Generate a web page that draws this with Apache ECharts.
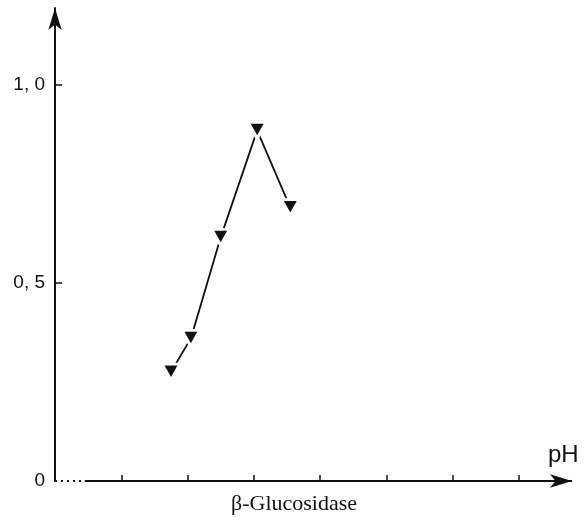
<!DOCTYPE html>
<html>
<head>
<meta charset="utf-8">
<script src="https://cdn.jsdelivr.net/npm/echarts@6/dist/echarts.min.js"></script>
<style>
  html, body { margin: 0; padding: 0; background: #fff; }
  #chart { width: 585px; height: 523px; }
</style>
</head>
<body>
<div id="chart"></div>
<script>
// pH values of the measurements and the relative activity at each
const phValues = [2.75, 3.05, 3.5, 4.05, 4.55];
const activity = [0.275, 0.36, 0.615, 0.885, 0.69];

// axis ticks and labels
const xTicks = [2, 3, 4, 5, 6, 7, 8];
const yTicks = [0.5, 1.0];
const yLabels = [0, 0.5, 1.0];

const xMin = 1, xMax = 8.8;
const yMin = 0, yMax = 1.194;
const axisBreakEnd = 1.45;

const ink = '#111';

const chart = echarts.init(document.getElementById('chart'), null, { renderer: 'canvas' });

chart.setOption({
  animation: false,
  backgroundColor: '#fff',
  title: [
    {
      text: 'pH',
      left: 543, top: 438,
      textStyle: { fontFamily: 'Liberation Sans', fontWeight: 'normal', fontSize: 24, color: ink }
    },
    {
      text: 'β-Glucosidase',
      left: 226, top: 488,
      textStyle: { fontFamily: 'Liberation Serif', fontWeight: 'normal', fontSize: 22, color: ink }
    }
  ],
  grid: { left: 55, right: 13, top: 8, bottom: 42 },
  xAxis: {
    type: 'value',
    min: xMin, max: xMax,
    axisLine: { show: false },
    axisTick: {
      show: true, inside: true, length: 6,
      customValues: xTicks,
      lineStyle: { color: ink, width: 1.5 }
    },
    axisLabel: { show: false },
    splitLine: { show: false }
  },
  yAxis: {
    type: 'value',
    min: yMin, max: yMax,
    axisLine: {
      show: true,
      symbol: ['none', 'arrow'],
      symbolSize: [10, 22],
      lineStyle: { color: ink, width: 2 }
    },
    axisTick: {
      show: true, inside: true, length: 7,
      customValues: yTicks,
      lineStyle: { color: ink, width: 1.5 }
    },
    axisLabel: {
      customValues: yLabels,
      margin: 10,
      fontFamily: 'Liberation Sans',
      fontSize: 19,
      color: ink,
      formatter: v => v === 0 ? '0' : v.toFixed(1).replace('.', ', ')
    },
    splitLine: { show: false }
  },
  series: [
    {
      // horizontal axis: short dotted break, then solid line with arrow head
      type: 'line',
      data: [],
      silent: true,
      markLine: {
        silent: true,
        animation: false,
        label: { show: false },
        emphasis: { disabled: true },
        data: [
          [
            { coord: [xMin, 0], symbol: 'none', lineStyle: { color: ink, width: 2, type: [2, 4] } },
            { coord: [axisBreakEnd, 0], symbol: 'none' }
          ],
          [
            { coord: [axisBreakEnd, 0], symbol: 'none', lineStyle: { color: ink, width: 2, type: 'solid' } },
            { coord: [xMax, 0], symbol: 'arrow', symbolSize: [10, 22] }
          ]
        ]
      }
    },
    {
      name: 'β-Glucosidase',
      type: 'line',
      data: phValues.map((x, i) => [x, activity[i]]),
      symbol: 'triangle',
      symbolRotate: 180,
      symbolSize: [18, 16],
      showAllSymbol: true,
      lineStyle: { color: ink, width: 1.8 },
      itemStyle: { color: ink, borderColor: '#fff', borderWidth: 3 },
      emphasis: { disabled: true }
    }
  ]
});
</script>
</body>
</html>
